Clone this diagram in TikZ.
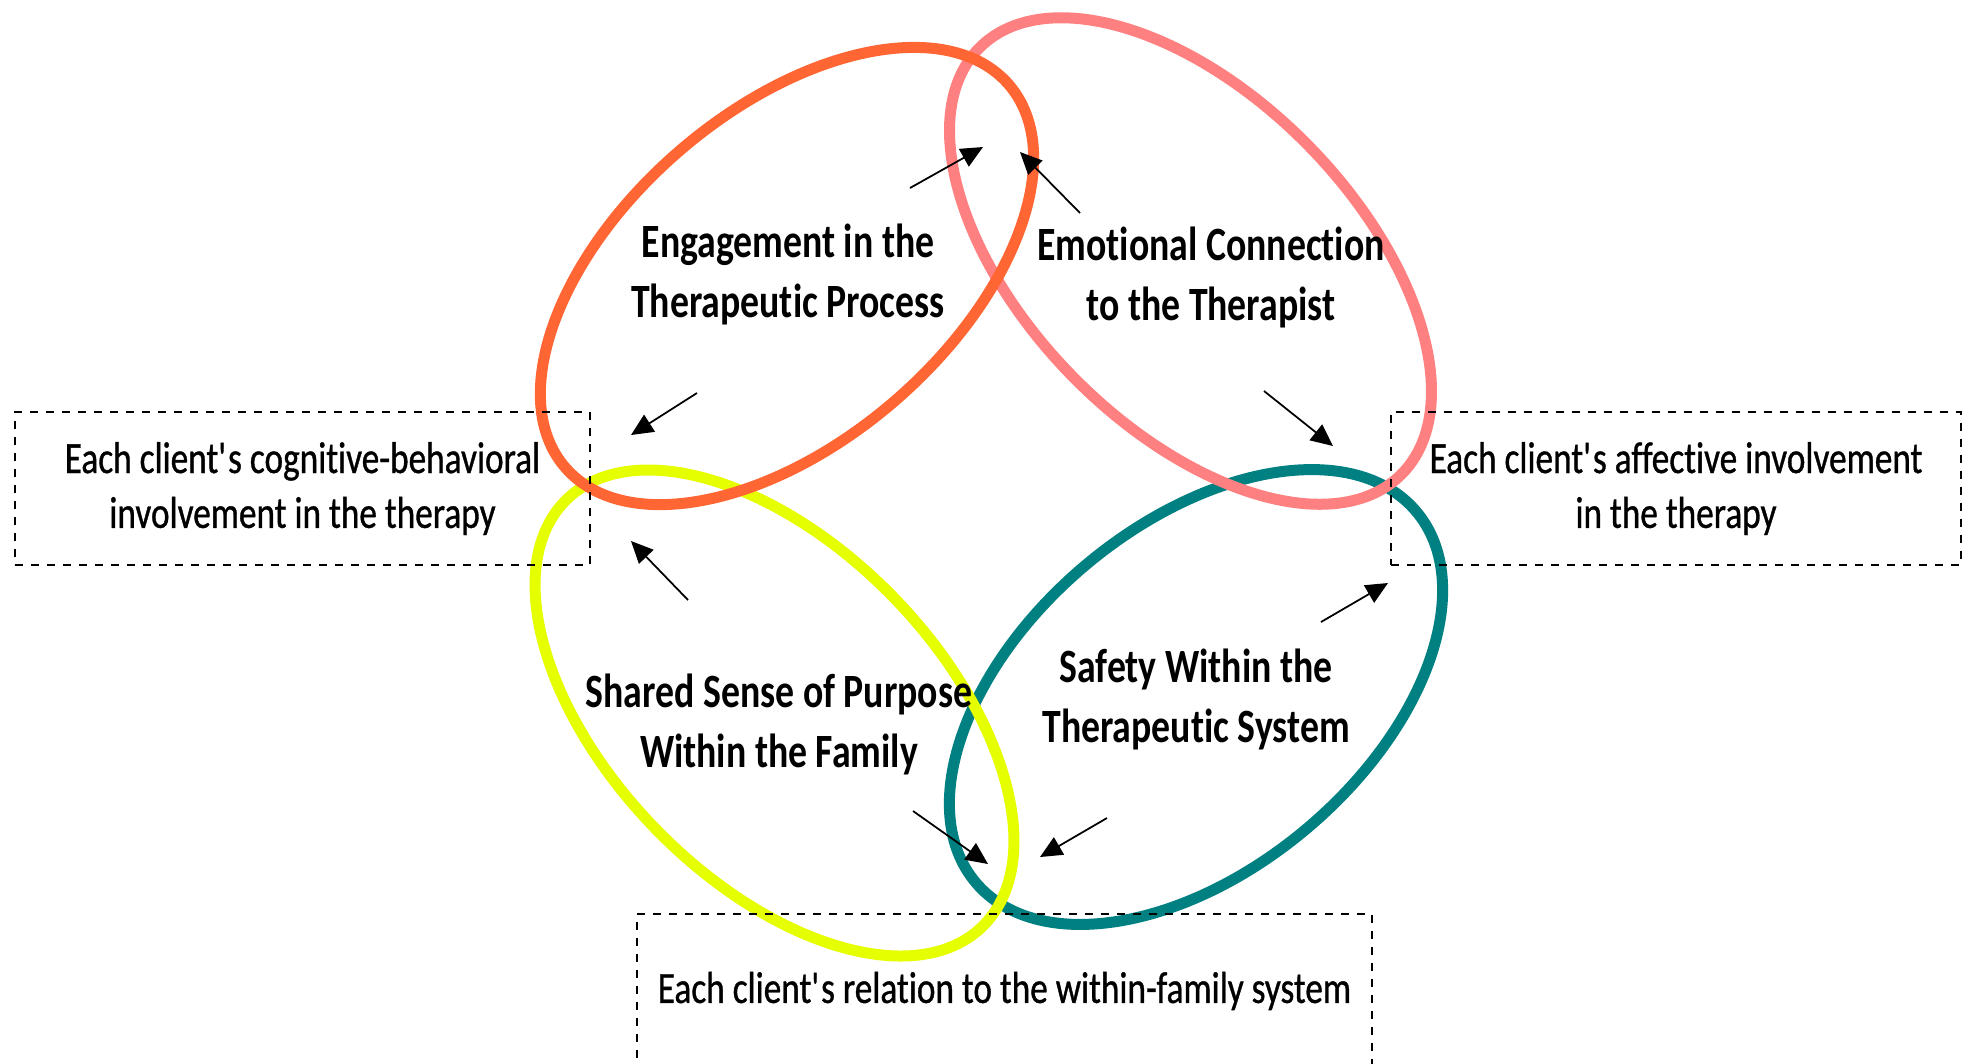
\documentclass[tikz,border=0pt]{standalone}
\usepackage{fontspec}
\setmainfont{Carlito}[FakeStretch=0.79,Ligatures=NoCommon]
\newfontfamily\cajafont{Carlito}[FakeStretch=0.79,FakeBold=0.8,Ligatures=NoCommon]
\usepackage{xcolor}
\usepackage{tikz}
\usetikzlibrary{shapes.geometric,arrows.meta}
\definecolor{naranja}{HTML}{FF6633}
\definecolor{rosa}{HTML}{FF8080}
\definecolor{amarillo}{HTML}{E6FF00}
\definecolor{verdeazul}{HTML}{008080}
\newcommand{\ap}{\textquotesingle}
\tikzset{
  anillo/.style={draw,ellipse,line width=1.1mm,inner sep=0pt},
  titulo/.style={align=center,inner sep=0pt,font=\bfseries\fontsize{13.6}{17.1}\selectfont},
  caja/.style={draw,dash pattern=on 0.8mm off 0.8mm,line width=0.8pt,align=center,inner sep=0pt,font=\cajafont\fontsize{12.7}{15.6}\selectfont},
  flecha/.style={-{Triangle[length=2.2mm,width=2mm]},line width=0.5pt},
}

\begin{document}
\begin{tikzpicture}[x=0.1mm,y=-0.1mm]
  \useasboundingbox (0,0) rectangle (1969,1063);
  \node[anillo,draw=verdeazul,minimum width=57.6mm,minimum height=34.4mm,rotate=40.1] (lazoseg) at (1196,697) {};
  \node[anillo,draw=amarillo,minimum width=59.6mm,minimum height=33.2mm,rotate=-45.8] (lazoprop) at (774.5,713) {};
  \node[anillo,draw=rosa,minimum width=60mm,minimum height=33mm,rotate=-45.5] (lazoemo) at (1190.5,261) {};
  \node[anillo,draw=naranja,minimum width=58.6mm,minimum height=33mm,rotate=40.8] (lazocomp) at (787,276) {};

  \node[titulo] (comp) at (788,274.5) {Engagement in the\\Therapeutic Process};
  \node[titulo] (emo) at (1211,277.5) {Emotional Connection\\to the Therapist};
  \node[titulo] (prop) at (779,724.5) {Shared Sense of Purpose\\Within the Family};
  \node[titulo] (seg) at (1196,699.5) {Safety Within the\\Therapeutic System};

  \node[caja,minimum width=57.5mm,minimum height=15.3mm] (cognit) at (302.5,488.5) {Each client\ap s cognitive-behavioral\\involvement in the therapy};
  \node[caja,minimum width=57mm,minimum height=15.3mm] (afect) at (1676,488.5) {Each client\ap s affective involvement\\in the therapy};
  \node[caja,minimum width=73.5mm,minimum height=15.4mm] (famil) at (1004.5,991) {Each client\ap s relation to the within-family system};

  \coordinate (c1) at (910,188);  \coordinate (t1) at (983,147);
  \coordinate (c2) at (1080,213); \coordinate (t2) at (1020,152);
  \coordinate (c3) at (697,393);  \coordinate (t3) at (631,435);
  \coordinate (c4) at (688,600);  \coordinate (t4) at (631,541);
  \coordinate (c5) at (1264,391); \coordinate (t5) at (1333,446);
  \coordinate (c6) at (1321,622); \coordinate (t6) at (1388,583);
  \coordinate (c7) at (913,811);  \coordinate (t7) at (988,864);
  \coordinate (c8) at (1107,818); \coordinate (t8) at (1040,857);
  \draw[flecha] (c1) -- (t1);
  \draw[flecha] (c2) -- (t2);
  \draw[flecha] (c3) -- (t3);
  \draw[flecha] (c4) -- (t4);
  \draw[flecha] (c5) -- (t5);
  \draw[flecha] (c6) -- (t6);
  \draw[flecha] (c7) -- (t7);
  \draw[flecha] (c8) -- (t8);
\end{tikzpicture}
\end{document}
